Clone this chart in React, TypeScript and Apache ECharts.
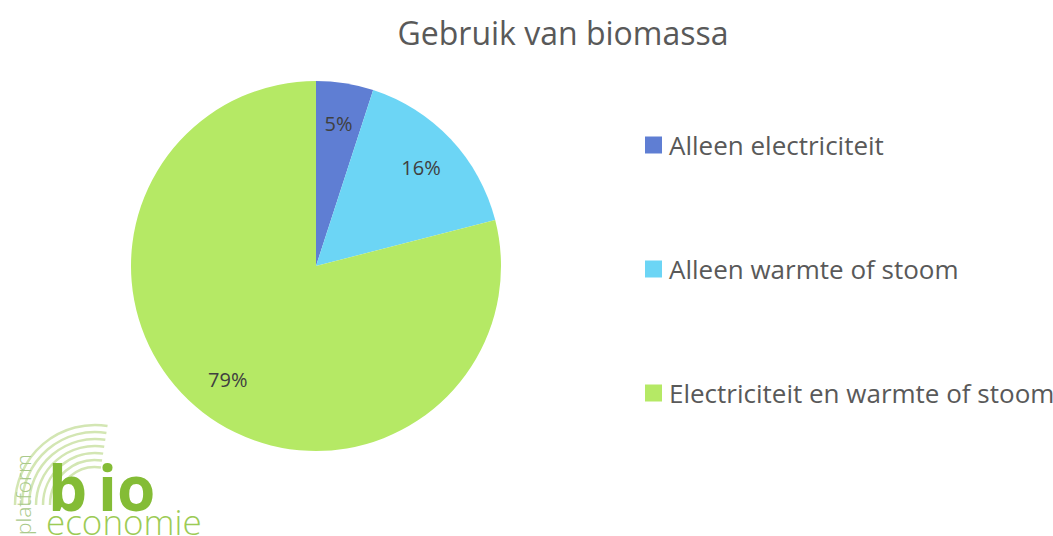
import React, { useEffect, useRef } from "react";
import * as echarts from "echarts";

const title = "Gebruik van biomassa";
const categories = ["Alleen electriciteit", "Alleen warmte of stoom", "Electriciteit en warmte of stoom"];
const values = [5, 16, 79];
const colors = ["#5F7ED3", "#6CD5F5", "#B5E965"];

export default function App() {
  const ref = useRef<HTMLDivElement>(null);
  useEffect(() => {
    const chart = echarts.init(ref.current!, null, { renderer: "svg" });
    const data = categories.map((name, i) => ({ name, value: values[i], itemStyle: { color: colors[i] } }));
    const font = "'Open Sans', 'Noto Sans', sans-serif";
    const arcs = [0, 1, 2, 3, 4, 5, 6].map((k) => ({
      type: "arc",
      shape: { cx: 95, cy: 505, r: 38 + k * 7, startAngle: Math.PI * 1.0, endAngle: Math.PI * 1.55 },
      style: { stroke: "#D3E6B3", lineWidth: 2.5, fill: "none" },
      silent: true,
    }));
    const logoLetter = (ch: string, x: number) => ({
      type: "text",
      x,
      y: 466,
      style: { text: ch, font: "bold 62px " + font, fill: "#84BC36", lineHeight: 42 },
      silent: true,
    });
    chart.setOption({
      animation: false,
      backgroundColor: "#ffffff",
      title: {
        text: title,
        left: 558,
        textAlign: "center",
        top: 11,
        textStyle: { fontFamily: font, fontSize: 32, fontWeight: "normal", color: "#595959" },
      },
      legend: {
        orient: "vertical",
        left: 645,
        top: 129,
        padding: 0,
        itemWidth: 17,
        itemHeight: 17,
        itemGap: 92,
        icon: "rect",
        data: categories,
        textStyle: { fontFamily: font, fontSize: 26, color: "#595959", lineHeight: 32, padding: [0, 0, 0, 2] },
      },
      series: [
        {
          type: "pie",
          center: [316, 266],
          radius: [0, 185],
          startAngle: 90,
          data,
          label: { show: false },
          labelLine: { show: false },
          silent: true,
        },
        {
          type: "pie",
          center: [316, 266],
          radius: [0, 282],
          startAngle: 90,
          data: categories.map((name, i) => ({ name, value: values[i] })),
          itemStyle: { color: "rgba(0,0,0,0)" },
          label: {
            show: true,
            position: "inside",
            formatter: (p: any) => p.value + "%",
            fontFamily: font,
            fontSize: 20,
            color: "#404040",
          },
          labelLine: { show: false },
          silent: true,
          legendHoverLink: false,
        },
      ],
      graphic: [
        ...arcs,
        {
          type: "text",
          x: 33,
          y: 535,
          rotation: Math.PI / 2,
          style: { text: "platform", font: "300 21px " + font, fill: "#A9C98A", textVerticalAlign: "bottom" },
          silent: true,
        },
        logoLetter("b", 48),
        logoLetter("i", 98),
        logoLetter("o", 117),
        {
          type: "text",
          x: 46,
          y: 510,
          style: { text: "economie", font: "300 35px " + font, fill: "#9CCB55", lineHeight: 22 },
          silent: true,
        },
      ],
    });
    return () => chart.dispose();
  }, []);
  return <div ref={ref} style={{ position: "fixed", left: 0, top: 0, width: 1053, height: 536 }} />;
}
